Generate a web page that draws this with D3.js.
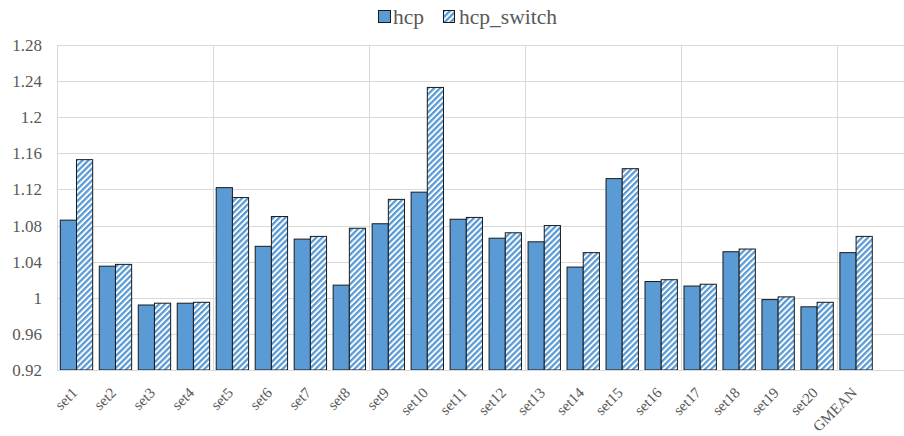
<!DOCTYPE html>
<html>
<head>
<meta charset="utf-8">
<script src="https://cdn.jsdelivr.net/npm/d3@7/dist/d3.min.js"></script>
<style>
  body { margin: 0; background: #fff; }
</style>
</head>
<body>
<div id="chart"></div>
<script>
// data
const categories = ["set1", "set2", "set3", "set4", "set5", "set6", "set7", "set8", "set9", "set10",
  "set11", "set12", "set13", "set14", "set15", "set16", "set17", "set18", "set19", "set20", "GMEAN"];
const hcp = [1.086, 1.035, 0.992, 0.994, 1.122, 1.057, 1.065, 1.014, 1.082, 1.117,
  1.087, 1.066, 1.062, 1.034, 1.132, 1.018, 1.013, 1.051, 0.998, 0.990, 1.050];
const hcpSwitch = [1.153, 1.037, 0.994, 0.995, 1.111, 1.090, 1.068, 1.077, 1.109, 1.233,
  1.089, 1.072, 1.080, 1.050, 1.143, 1.020, 1.015, 1.054, 1.001, 0.995, 1.068];
const seriesNames = ["hcp", "hcp_switch"];
const yTicks = [0.92, 0.96, 1, 1.04, 1.08, 1.12, 1.16, 1.2, 1.24, 1.28];

const width = 904, height = 436;
const plotLeft = 57, plotTop = 45, plotBottom = 370;
const plotRight = 57 + 21 * 38.98;
const serif = "'Liberation Serif', 'DejaVu Serif', 'Times New Roman', serif";
const textColor = "#595959";

const svg = d3.select("#chart").append("svg")
  .attr("width", width)
  .attr("height", height)
  .attr("font-family", serif);

// hatch pattern for hcp_switch
const defs = svg.append("defs");
const pat = defs.append("pattern")
  .attr("id", "hatch")
  .attr("patternUnits", "userSpaceOnUse")
  .attr("width", 4.2)
  .attr("height", 4.2)
  .attr("patternTransform", "rotate(45)");
pat.append("rect").attr("width", 4.2).attr("height", 4.2).attr("fill", "#fff");
pat.append("rect").attr("width", 2.3).attr("height", 4.2).attr("fill", "#5B9BD5");

const x = d3.scaleBand()
  .domain(categories)
  .range([plotLeft, plotRight])
  .padding(0);

const x1 = d3.scaleBand()
  .domain(seriesNames)
  .range([3.3, x.bandwidth() - 3.3])
  .padding(0);

const y = d3.scaleLinear()
  .domain([0.92, 1.28])
  .range([plotBottom, plotTop]);

// horizontal gridlines
svg.append("g")
  .selectAll("line")
  .data(yTicks)
  .join("line")
  .attr("x1", plotLeft)
  .attr("x2", width)
  .attr("y1", d => Math.round(y(d)) + 0.5)
  .attr("y2", d => Math.round(y(d)) + 0.5)
  .attr("stroke", "#d9d9d9")
  .attr("stroke-width", 1);

// vertical gridlines every 4 categories
const vIdx = [0, 4, 8, 12, 16, 20];
svg.append("g")
  .selectAll("line")
  .data(vIdx)
  .join("line")
  .attr("x1", d => Math.round(x(categories[d])) + 0.5)
  .attr("x2", d => Math.round(x(categories[d])) + 0.5)
  .attr("y1", plotTop)
  .attr("y2", plotBottom)
  .attr("stroke", "#d9d9d9")
  .attr("stroke-width", 1);

// y tick labels
svg.append("g")
  .selectAll("text")
  .data(yTicks)
  .join("text")
  .attr("x", 42)
  .attr("y", d => y(d))
  .attr("dy", "0.35em")
  .attr("text-anchor", "end")
  .attr("font-family", serif)
  .attr("font-size", 17)
  .attr("fill", textColor)
  .text(d => String(+d.toFixed(2)));

// bars
const groups = svg.append("g")
  .selectAll("g")
  .data(categories)
  .join("g")
  .attr("transform", d => `translate(${x(d)},0)`);

groups.append("rect")
  .attr("x", x1("hcp"))
  .attr("y", (d, i) => y(hcp[i]))
  .attr("width", x1.bandwidth())
  .attr("height", (d, i) => y(0.92) - y(hcp[i]))
  .attr("fill", "#5B9BD5")
  .attr("stroke", "#1a1a1a")
  .attr("stroke-width", 1);

groups.append("rect")
  .attr("x", x1("hcp_switch"))
  .attr("y", (d, i) => y(hcpSwitch[i]))
  .attr("width", x1.bandwidth())
  .attr("height", (d, i) => y(0.92) - y(hcpSwitch[i]))
  .attr("fill", "url(#hatch)")
  .attr("stroke", "#1a1a1a")
  .attr("stroke-width", 1);

// x axis line
svg.append("line")
  .attr("x1", plotLeft)
  .attr("x2", width)
  .attr("y1", plotBottom + 0.5)
  .attr("y2", plotBottom + 0.5)
  .attr("stroke", "#d9d9d9");

// x labels, rotated 45 degrees
svg.append("g")
  .selectAll("text")
  .data(categories)
  .join("text")
  .attr("transform", d => "translate(" + (x(d) + x.bandwidth() / 2 - 2) + "," + (plotBottom + 20) + ") rotate(-45)")
  .attr("text-anchor", "end")
  .attr("dy", "0.35em")
  .attr("font-family", serif)
  .attr("font-size", 15)
  .attr("fill", textColor)
  .text(d => d);

// legend
const legend = svg.append("g").attr("transform", "translate(378,10)");
legend.append("rect")
  .attr("x", 0.5).attr("y", 0.5)
  .attr("width", 12).attr("height", 12)
  .attr("fill", "#5B9BD5")
  .attr("stroke", "#1a1a1a");
legend.append("text")
  .attr("x", 15).attr("y", 6.5)
  .attr("dy", "0.35em")
  .attr("font-family", serif)
  .attr("font-size", 21.5)
  .attr("fill", textColor)
  .text(seriesNames[0]);
legend.append("rect")
  .attr("x", 65.5).attr("y", 0.5)
  .attr("width", 11).attr("height", 12)
  .attr("fill", "url(#hatch)")
  .attr("stroke", "#1a1a1a");
legend.append("text")
  .attr("x", 81).attr("y", 6.5)
  .attr("dy", "0.35em")
  .attr("font-family", serif)
  .attr("font-size", 21.5)
  .attr("fill", textColor)
  .text(seriesNames[1]);
</script>
</body>
</html>
